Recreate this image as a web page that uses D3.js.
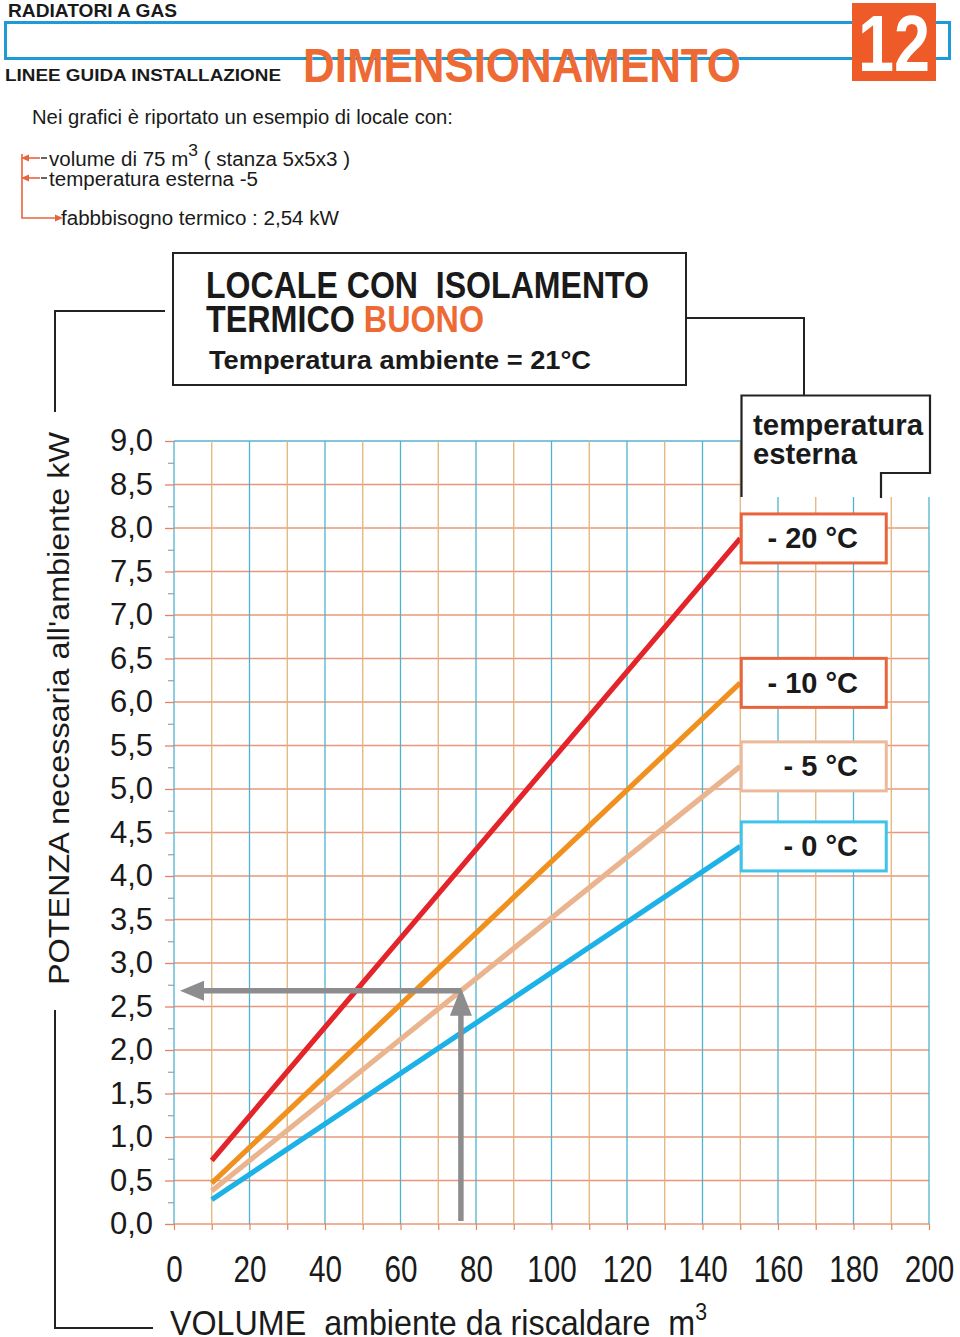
<!DOCTYPE html>
<html>
<head>
<meta charset="utf-8">
<script src="https://cdn.jsdelivr.net/npm/d3@7"></script>
<style>
  body { margin: 0; background: #fff; }
  svg { display: block; }
</style>
</head>
<body>
<script>
// ---------------- DATA ----------------
const volumes = [10, 150];                 // m3, start / end of each line
const seriesLabels = ["- 20 °C", "- 10 °C", "- 5 °C", "- 0 °C"];
const tMinus20 = [0.73, 7.88];
const tMinus10 = [0.47, 6.22];
const tMinus5  = [0.38, 5.26];
const tZero    = [0.28, 4.34];
const seriesColors = ["#e3242b", "#f0901e", "#e9b48e", "#1cb1e7"];
const legendStroke = ["#e8643c", "#e8643c", "#ebb99b", "#3ec3ea"];
const xTickLabels = [0, 20, 40, 60, 80, 100, 120, 140, 160, 180, 200];
const xGridValues = d3.range(0, 201, 10);
const yTickValues = d3.range(0, 9.001, 0.5);
const yMinorValues = d3.range(0.25, 9, 0.5);
const exampleVolume = 76;
const examplePower = 2.68;

// ---------------- SETUP ----------------
const W = 960, H = 1337;
const svg = d3.select("body").append("svg").attr("width", W).attr("height", H);
const narrow = "'Liberation Sans Narrow', 'Arial Narrow', 'Liberation Sans', Arial, sans-serif";
const reg = "'Liberation Sans', Arial, sans-serif";
const orange = "#ee6a35";

function txt(x, y, s, o = {}) {
  const t = svg.append("text").attr("x", x).attr("y", y)
    .attr("font-family", o.family || reg)
    .attr("font-size", o.size || 18)
    .attr("font-weight", o.weight || "normal")
    .attr("fill", o.fill || "#1a1a1a")
    .style("white-space", "pre");
  if (o.anchor) t.attr("text-anchor", o.anchor);
  if (o.len) t.attr("textLength", o.len).attr("lengthAdjust", "spacingAndGlyphs");
  if (s !== null) t.text(s);
  return t;
}

// ---------------- HEADER ----------------
txt(8, 17, "RADIATORI A GAS", {family: narrow, weight: "bold", size: 18, len: 169});
svg.append("rect").attr("x", 5.5).attr("y", 22.5).attr("width", 944).attr("height", 36)
  .attr("fill", "none").attr("stroke", "#1e9bd7").attr("stroke-width", 3);
txt(5, 81, "LINEE GUIDA INSTALLAZIONE", {family: narrow, weight: "bold", size: 17, len: 276});
txt(303, 82, "DIMENSIONAMENTO", {family: narrow, weight: "bold", size: 48, fill: orange, len: 438});
svg.append("rect").attr("x", 852).attr("y", 3).attr("width", 84).attr("height", 78).attr("fill", "#ee5a28");
txt(894, 71, "12", {family: narrow, weight: "bold", size: 80, fill: "#fff", anchor: "middle", len: 72});

// ---------------- INTRO ----------------
txt(32, 124, "Nei grafici è riportato un esempio di locale con:", {size: 20, len: 421});
const t1 = txt(49, 166, null, {size: 20, len: 301});
t1.append("tspan").text("volume di 75 m");
t1.append("tspan").attr("dy", -10).attr("font-size", 17).text("3");
t1.append("tspan").attr("dy", 10).text(" ( stanza 5x5x3 )");
txt(49, 186, "temperatura esterna -5", {size: 20, len: 209});
txt(61, 225, "fabbbisogno termico : 2,54 kW", {size: 20, len: 278});
const br = svg.append("g").attr("stroke", "#e8643c").attr("stroke-width", 1.6).attr("fill", "none");
br.append("path").attr("d", "M22,154 V218 H55");
br.append("path").attr("d", "M24,158 H40");
br.append("path").attr("d", "M24,178 H40");
br.append("path").attr("d", "M41,158 H47 M41,178 H47").attr("stroke", "#333");
const ah = svg.append("g").attr("fill", "#e8643c");
ah.append("path").attr("d", "M21,158 L29,154.5 L29,161.5 Z");
ah.append("path").attr("d", "M21,178 L29,174.5 L29,181.5 Z");
ah.append("path").attr("d", "M63,218 L55,214.5 L55,221.5 Z");

// ---------------- CONNECTORS ----------------
const con = svg.append("g").attr("stroke", "#222").attr("stroke-width", 2).attr("fill", "none");
con.append("path").attr("d", "M165,311 H55 V412");
con.append("path").attr("d", "M55,1010 V1328 H153");
con.append("path").attr("d", "M687,318 H804 V395");

// ---------------- TITLE BOX ----------------
svg.append("rect").attr("x", 173).attr("y", 253).attr("width", 513).attr("height", 132)
  .attr("fill", "#fff").attr("stroke", "#222").attr("stroke-width", 2);
txt(206, 298, "LOCALE CON  ISOLAMENTO", {family: narrow, weight: "bold", size: 36, len: 443});
const tt = txt(206, 332, null, {family: narrow, weight: "bold", size: 36, len: 278});
tt.append("tspan").text("TERMICO ");
tt.append("tspan").attr("fill", orange).text("BUONO");
txt(209, 369, "Temperatura ambiente = 21°C", {weight: "bold", size: 25, len: 382});

// ---------------- SCALES ----------------
const x = d3.scaleLinear().domain([0, 200]).range([174, 929]);
const y = d3.scaleLinear().domain([0, 9]).range([1224, 441]);

// grid
const grid = svg.append("g");
grid.selectAll(".hg").data(yTickValues).join("line")
  .attr("x1", x(0)).attr("x2", x(200)).attr("y1", d => y(d)).attr("y2", d => y(d))
  .attr("stroke", d => d === 9 ? "#5ab3cf" : "#e8977a").attr("stroke-width", 1.3);
grid.selectAll(".vg").data(xGridValues).join("line")
  .attr("x1", d => x(d)).attr("x2", d => x(d)).attr("y1", y(0)).attr("y2", y(9))
  .attr("stroke", d => d % 20 === 0 ? "#4fb2cf" : "#e3b478").attr("stroke-width", 1.3);

// y axis (major)
const yAxis = svg.append("g").attr("transform", `translate(${x(0)},0)`)
  .call(d3.axisLeft(y).tickValues(yTickValues).tickSize(9).tickPadding(12)
    .tickFormat(d => d3.format(".1f")(d).replace(".", ",")));
yAxis.select(".domain").remove();
yAxis.selectAll(".tick line").attr("stroke", "#e8835f").attr("stroke-width", 1.3);
yAxis.selectAll(".tick text").attr("font-family", reg).attr("font-size", 31).attr("fill", "#1a1a1a");
// y minor ticks
const yMinor = svg.append("g").attr("transform", `translate(${x(0)},0)`)
  .call(d3.axisLeft(y).tickValues(yMinorValues).tickSize(6).tickFormat(""));
yMinor.select(".domain").remove();
yMinor.selectAll(".tick line").attr("stroke", "#a0a0a0").attr("stroke-width", 1.2);

// x minor ticks
const xMinor = svg.append("g").attr("transform", `translate(0,${y(0)})`)
  .call(d3.axisBottom(x).tickValues(xGridValues).tickSize(6).tickFormat(""));
xMinor.select(".domain").remove();
xMinor.selectAll(".tick line").attr("stroke", "#e8835f").attr("stroke-width", 1.2);
// x labels
const xAxis = svg.append("g").attr("transform", `translate(0,${y(0)})`)
  .call(d3.axisBottom(x).tickValues(xTickLabels).tickSize(0).tickFormat(d3.format("d")));
xAxis.select(".domain").remove();
xAxis.selectAll(".tick text").attr("y", 58).attr("dy", 0)
  .attr("font-family", narrow).attr("font-size", 36).attr("fill", "#1a1a1a")
  .attr("textLength", d => String(d).length * 16.5).attr("lengthAdjust", "spacingAndGlyphs");

// axis titles
svg.append("text").attr("transform", "translate(69,708.5) rotate(-90)")
  .attr("text-anchor", "middle").attr("font-family", reg).attr("font-size", 30).attr("fill", "#1a1a1a")
  .attr("textLength", 553).attr("lengthAdjust", "spacingAndGlyphs")
  .text("POTENZA necessaria all'ambiente kW");
const xt = txt(170, 1335, null, {family: narrow, size: 35, len: 537});
xt.append("tspan").text("VOLUME  ambiente da riscaldare  m");
xt.append("tspan").attr("dy", -15).attr("font-size", 23).text("3");

// ---------------- LINES ----------------
const series = [tMinus20, tMinus10, tMinus5, tZero];
const line = d3.line().x(d => x(d[0])).y(d => y(d[1]));
svg.append("g").selectAll("path").data(series).join("path")
  .attr("d", s => line(volumes.map((v, i) => [v, s[i]])))
  .attr("fill", "none").attr("stroke", (s, i) => seriesColors[i]).attr("stroke-width", 5.2);

// ---------------- EXAMPLE ARROWS ----------------
const gray = "#8d8d8f";
const ex = x(exampleVolume), ey = y(examplePower);
const arr = svg.append("g");
arr.append("line").attr("x1", ex).attr("x2", ex).attr("y1", y(0) - 3).attr("y2", ey + 24)
  .attr("stroke", gray).attr("stroke-width", 5.5);
arr.append("path").attr("d", `M${ex},${ey - 3} L${ex - 11},${ey + 25} L${ex + 11},${ey + 25} Z`).attr("fill", gray);
arr.append("line").attr("x1", ex).attr("x2", x(0) + 28).attr("y1", ey).attr("y2", ey)
  .attr("stroke", gray).attr("stroke-width", 5.5);
arr.append("path").attr("d", `M${x(0) + 6},${ey} L${x(0) + 30},${ey - 10} L${x(0) + 30},${ey + 10} Z`).attr("fill", gray);

// ---------------- LEGEND ----------------
svg.append("rect").attr("x", 741).attr("y", 395).attr("width", 194).attr("height", 102).attr("fill", "#fff");
svg.append("path").attr("d", "M741.5,497 V395.5 H930 V473 H881 V498")
  .attr("fill", "none").attr("stroke", "#222").attr("stroke-width", 2.2);
txt(753, 435, "temperatura", {weight: "bold", size: 30, len: 170});
txt(753, 464, "esterna", {weight: "bold", size: 30, len: 104});

const lg = svg.append("g").selectAll("g").data(series).join("g");
lg.append("rect")
  .attr("x", x(volumes[1]) + 1).attr("y", s => y(s[1]) - 24.5)
  .attr("width", 145).attr("height", 49)
  .attr("fill", "#fff").attr("stroke", (s, i) => legendStroke[i]).attr("stroke-width", 3);
lg.append("text")
  .attr("x", 858).attr("y", s => y(s[1]) + 10)
  .attr("text-anchor", "end").attr("font-family", reg).attr("font-weight", "bold")
  .attr("font-size", 29).attr("fill", "#1a1a1a").style("white-space", "pre")
  .text((s, i) => seriesLabels[i]);
</script>
</body>
</html>
